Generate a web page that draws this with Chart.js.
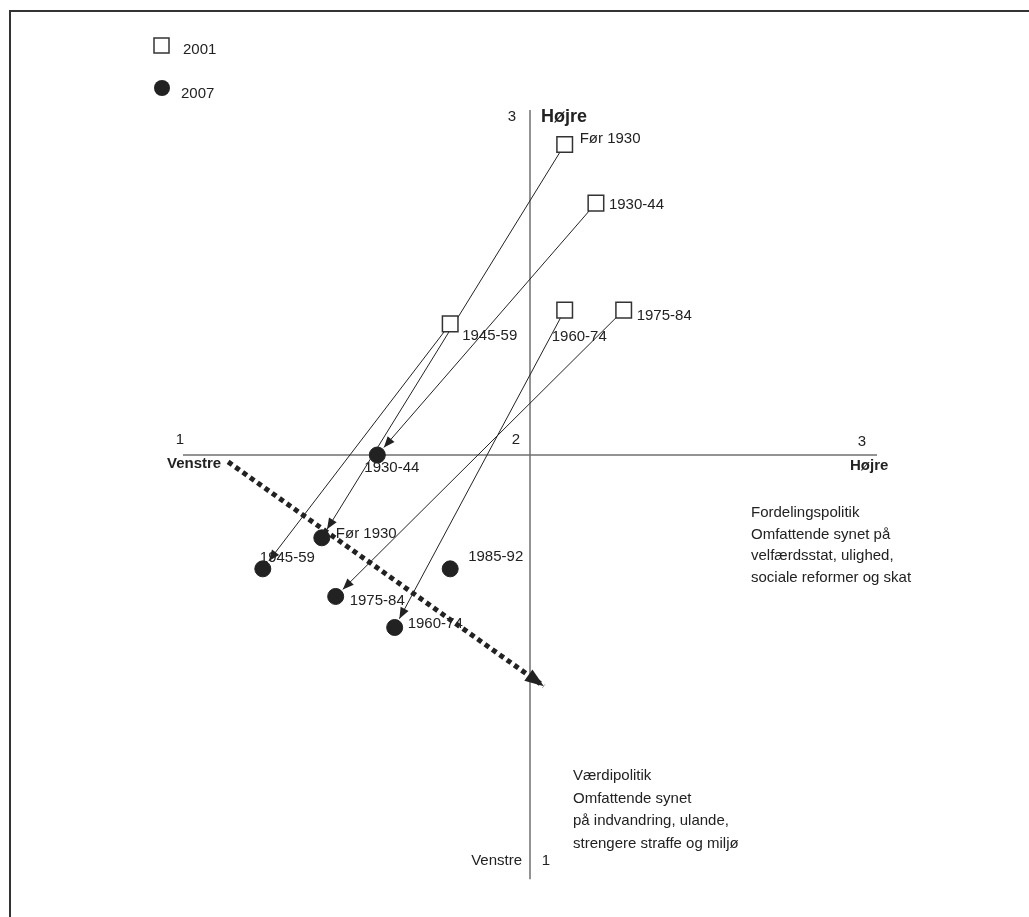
<!DOCTYPE html>
<html>
<head>
<meta charset="utf-8">
<script src="https://cdn.jsdelivr.net/npm/chart.js@4"></script>
<style>
  html, body { margin: 0; padding: 0; background: #fff; }
  #wrap { width: 1029px; height: 917px; position: relative; }
</style>
</head>
<body>
<div id="wrap"><canvas id="chart"></canvas></div>
<script>
// birth cohorts
const cohorts = ['Før 1930', '1930-44', '1945-59', '1960-74', '1975-84', '1985-92'];

// 2001: x = fordelingspolitik, y = værdipolitik (no 2001 value for 1985-92)
const x2001 = [2.10, 2.19, 1.77, 2.10, 2.27, null];
const y2001 = [2.90, 2.73, 2.38, 2.42, 2.42, null];

// 2007
const x2007 = [1.40, 1.56, 1.23, 1.61, 1.44, 1.77];
const y2007 = [1.76, 2.00, 1.67, 1.50, 1.59, 1.67];

// tick labels on the two crossing axes
const tickValues = [1, 2, 3];

// the dotted arrow (overall drift)
const trendX = [1.13, 2.04];
const trendY = [1.98, 1.33];

// where the vertical axis line stops at the bottom
const yAxisLow = 0.77;

// label placement next to the markers, in px (dx, dy), same order as cohorts
const labelPos2001 = [[15, -6], [13, 2], [12, 12], [-13, 27], [13, 6], null];
const labelPos2007 = [[14, -4], [-13, 13], [-3, -11], [13, -4], [14, 4], [18, -12]];

const FONT = '"Liberation Sans", Arial, sans-serif';
const INK = '#222';

function arrowHead(ctx, x0, y0, x1, y1, len, half) {
  const a = Math.atan2(y1 - y0, x1 - x0);
  const c = Math.cos(a), s = Math.sin(a);
  ctx.beginPath();
  ctx.moveTo(x1, y1);
  ctx.lineTo(x1 - len * c + half * s, y1 - len * s - half * c);
  ctx.lineTo(x1 - len * c - half * s, y1 - len * s + half * c);
  ctx.closePath();
  ctx.fill();
}

function text(ctx, str, x, y, opts) {
  opts = opts || {};
  ctx.font = (opts.bold ? 'bold ' : '') + (opts.size || 15) + 'px ' + FONT;
  ctx.textAlign = opts.align || 'left';
  ctx.textBaseline = 'middle';
  ctx.fillStyle = INK;
  ctx.fillText(str, x, y);
}

// frame, crossing axes and the migration arrows (under the markers)
const backdrop = {
  id: 'backdrop',
  beforeDatasetsDraw(chart) {
    const ctx = chart.ctx;
    const xs = chart.scales.x, ys = chart.scales.y;
    ctx.save();

    // frame
    ctx.strokeStyle = '#333';
    ctx.lineWidth = 2;
    ctx.beginPath();
    ctx.moveTo(10, chart.height);
    ctx.lineTo(10, 11);
    ctx.lineTo(chart.width, 11);
    ctx.stroke();

    // axes crossing at (2, 2)
    const cx = xs.getPixelForValue(2), cy = ys.getPixelForValue(2);
    ctx.strokeStyle = '#707070';
    ctx.lineWidth = 1.5;
    ctx.beginPath();
    ctx.moveTo(xs.getPixelForValue(tickValues[0]), cy);
    ctx.lineTo(xs.getPixelForValue(tickValues[2]), cy);
    ctx.moveTo(cx, ys.getPixelForValue(tickValues[2]));
    ctx.lineTo(cx, ys.getPixelForValue(yAxisLow));
    ctx.stroke();

    // 2001 -> 2007 arrows
    ctx.strokeStyle = INK;
    ctx.fillStyle = INK;
    ctx.lineWidth = 1;
    cohorts.forEach((c, i) => {
      if (x2001[i] === null) return;
      const x0 = xs.getPixelForValue(x2001[i]), y0 = ys.getPixelForValue(y2001[i]);
      const x1 = xs.getPixelForValue(x2007[i]), y1 = ys.getPixelForValue(y2007[i]);
      const d = Math.hypot(x1 - x0, y1 - y0);
      const ux = (x1 - x0) / d, uy = (y1 - y0) / d;
      const sx = x0 + ux * 8, sy = y0 + uy * 8;
      const ex = x1 - ux * 10, ey = y1 - uy * 10;
      ctx.beginPath();
      ctx.moveTo(sx, sy);
      ctx.lineTo(ex, ey);
      ctx.stroke();
      arrowHead(ctx, sx, sy, ex, ey, 11, 4.5);
    });
    ctx.restore();
  },

  afterDatasetsDraw(chart) {
    const ctx = chart.ctx;
    const xs = chart.scales.x, ys = chart.scales.y;
    ctx.save();

    // head of the dotted arrow
    ctx.fillStyle = INK;
    arrowHead(ctx,
      xs.getPixelForValue(trendX[0]), ys.getPixelForValue(trendY[0]),
      xs.getPixelForValue(trendX[1]), ys.getPixelForValue(trendY[1]), 19, 7);

    // cohort labels
    cohorts.forEach((c, i) => {
      if (x2001[i] !== null) {
        const p = labelPos2001[i];
        text(ctx, c, xs.getPixelForValue(x2001[i]) + p[0], ys.getPixelForValue(y2001[i]) + p[1]);
      }
      const q = labelPos2007[i];
      text(ctx, c, xs.getPixelForValue(x2007[i]) + q[0], ys.getPixelForValue(y2007[i]) + q[1]);
    });

    // axis numbers and end names
    const cx = xs.getPixelForValue(2), cy = ys.getPixelForValue(2);
    const left = xs.getPixelForValue(tickValues[0]), right = xs.getPixelForValue(tickValues[2]);
    const top = ys.getPixelForValue(tickValues[2]), bottom = ys.getPixelForValue(yAxisLow);
    text(ctx, String(tickValues[0]), left - 3, cy - 15, { align: 'center' });
    text(ctx, String(tickValues[1]), cx - 14, cy - 15, { align: 'center' });
    text(ctx, String(tickValues[2]), right - 15, cy - 13, { align: 'center' });
    text(ctx, 'Venstre', left - 16, cy + 9, { bold: true });
    text(ctx, 'Højre', right - 27, cy + 11, { bold: true });

    text(ctx, String(tickValues[2]), cx - 18, top + 7, { align: 'center' });
    text(ctx, 'Højre', cx + 11, top + 7, { bold: true, size: 18 });
    text(ctx, 'Venstre', cx - 8, bottom - 18, { align: 'right' });
    text(ctx, String(tickValues[0]), cx + 16, bottom - 18, { align: 'center' });

    // axis descriptions
    const fx = right - 126;
    ['Fordelingspolitik', 'Omfattende synet på', 'velfærdsstat, ulighed,', 'sociale reformer og skat']
      .forEach((s, k) => text(ctx, s, fx, cy + 58 + k * 21.5));
    const vx = cx + 43;
    ['Værdipolitik', 'Omfattende synet', 'på indvandring, ulande,', 'strengere straffe og miljø']
      .forEach((s, k) => text(ctx, s, vx, bottom - 103 + k * 22.5));

    // legend
    ctx.strokeStyle = '#333';
    ctx.lineWidth = 1.5;
    ctx.fillStyle = '#fff';
    ctx.fillRect(154, 38, 15, 15);
    ctx.strokeRect(154, 38, 15, 15);
    text(ctx, '2001', 183, 50);
    ctx.fillStyle = INK;
    ctx.beginPath();
    ctx.arc(162, 88, 8, 0, Math.PI * 2);
    ctx.fill();
    text(ctx, '2007', 181, 94);

    ctx.restore();
  }
};

const pts2001 = cohorts.map((c, i) => ({ x: x2001[i], y: y2001[i] })).filter(p => p.x !== null);
const pts2007 = cohorts.map((c, i) => ({ x: x2007[i], y: y2007[i] }));

new Chart(document.getElementById('chart'), {
  type: 'scatter',
  data: {
    datasets: [
      {
        label: 'trend',
        type: 'line',
        data: trendX.map((x, i) => ({ x: x, y: trendY[i] })),
        borderColor: INK,
        borderWidth: 5,
        borderDash: [5, 4],
        pointRadius: 0,
        fill: false,
        clip: false
      },
      {
        label: '2001',
        data: pts2001,
        pointStyle: 'rect',
        pointRadius: 11,
        backgroundColor: '#fff',
        borderColor: '#333',
        borderWidth: 1.5,
        clip: false
      },
      {
        label: '2007',
        data: pts2007,
        pointStyle: 'circle',
        pointRadius: 8,
        backgroundColor: INK,
        borderColor: INK,
        borderWidth: 1,
        clip: false
      }
    ]
  },
  options: {
    responsive: true,
    maintainAspectRatio: false,
    animation: false,
    layout: { padding: { left: 183, right: 152, top: 110, bottom: 117 } },
    plugins: { legend: { display: false }, tooltip: { enabled: false } },
    scales: {
      x: { type: 'linear', min: 1, max: 3, display: false },
      y: { type: 'linear', min: 1, max: 3, display: false }
    }
  },
  plugins: [backdrop]
});
</script>
</body>
</html>
